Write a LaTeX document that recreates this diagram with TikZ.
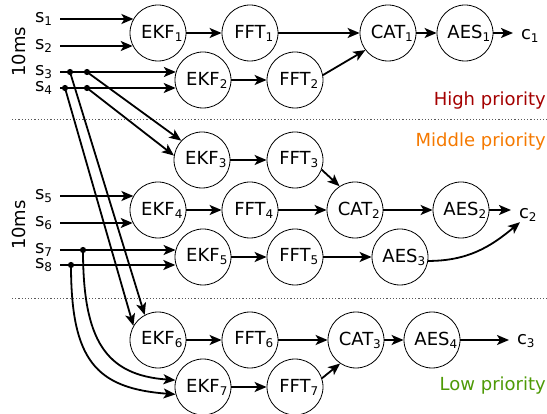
\documentclass[tikz,border=0pt]{standalone}
\usepackage{fontspec}
\setmainfont{DejaVu Sans}
\usetikzlibrary{arrows.meta}
\definecolor{hired}{HTML}{A40000}
\definecolor{midorange}{HTML}{F57900}
\definecolor{logreen}{HTML}{4E9A06}
\newcommand\sbx[1]{\rlap{\raisebox{-3pt}{\fontsize{12}{12}\selectfont #1}}}
\newcommand\sbs[1]{\raisebox{-2.5pt}{\fontsize{12}{12}\selectfont #1}}
\tikzset{
  bigtxt/.style={font=\fontsize{18}{21}\selectfont},
  proc/.style={circle, draw, line width=0.8pt, minimum size=56pt, inner sep=0pt, bigtxt},
  arr/.style={line width=1.8pt, -{Stealth[length=12pt,width=10pt,inset=3pt]}},
  src/.style={anchor=west, inner sep=0pt, outer xsep=8pt, bigtxt},
  outl/.style={anchor=base west, inner sep=0pt, outer xsep=8pt, bigtxt},
  sepline/.style={line width=1pt, black!65, dash pattern=on 1.2pt off 2pt},
  prio/.style={anchor=base east, inner sep=0pt, bigtxt},
  msl/.style={rotate=90, anchor=base, inner sep=0pt, bigtxt}
}
\begin{document}
\begin{tikzpicture}[x=1pt,y=1pt]
\useasboundingbox (0,0) rectangle (547,-414);

% separators
\coordinate (sepAl) at (12,-119.5); \coordinate (sepAr) at (547,-119.5);
\coordinate (sepBl) at (12,-298.5); \coordinate (sepBr) at (547,-298.5);
\draw[sepline] (sepAl) -- (sepAr);
\draw[sepline] (sepBl) -- (sepBr);

% labels
\node[msl] (ms1) at (25,-51.7) {10ms};
\node[msl] (ms2) at (25,-225) {10ms};
\node[prio, text=hired] (hp) at (546,-106) {High priority};
\node[prio, text=midorange] (mp) at (546,-147) {Middle priority};
\node[prio, text=logreen] (lp) at (546,-390.5) {Low priority};

% sources
\node[src] (s1) at (27,-19) {s\sbs{1}};
\node[src] (s2) at (27,-46) {s\sbs{2}};
\node[src] (s3) at (27,-72) {s\sbs{3}};
\node[src] (s4) at (27,-88) {s\sbs{4}};
\node[src] (s5) at (27,-196) {s\sbs{5}};
\node[src] (s6) at (27,-223) {s\sbs{6}};
\node[src] (s7) at (27,-250) {s\sbs{7}};
\node[src] (s8) at (27,-265) {s\sbs{8}};

% processes
\node[proc] (ekf1) at (158,-33) {EKF\sbx{1}};
\node[proc] (fft1) at (250,-33) {FFT\sbx{1}};
\node[proc] (cat1) at (388,-33) {CAT\sbx{1}};
\node[proc] (aes1) at (465,-33) {AES\sbx{1}};
\node[proc] (ekf2) at (203,-80) {EKF\sbx{2}};
\node[proc] (fft2) at (295,-80) {FFT\sbx{2}};

\node[proc] (ekf3) at (202,-160) {EKF\sbx{3}};
\node[proc] (fft3) at (295,-160) {FFT\sbx{3}};
\node[proc] (ekf4) at (158,-210) {EKF\sbx{4}};
\node[proc] (fft4) at (250,-210) {FFT\sbx{4}};
\node[proc] (cat2) at (355,-210) {CAT\sbx{2}};
\node[proc] (aes2) at (461,-210) {AES\sbx{2}};
\node[proc] (ekf5) at (203,-257) {EKF\sbx{5}};
\node[proc] (fft5) at (295,-257) {FFT\sbx{5}};
\node[proc] (aes3) at (400,-257) {AES\sbx{3}};

\node[proc] (ekf6) at (158,-340) {EKF\sbx{6}};
\node[proc] (fft6) at (250,-340) {FFT\sbx{6}};
\node[proc] (cat3) at (356,-340) {CAT\sbx{3}};
\node[proc] (aes4) at (432,-340) {AES\sbx{4}};
\node[proc] (ekf7) at (203,-387) {EKF\sbx{7}};
\node[proc] (fft7) at (295,-387) {FFT\sbx{7}};

% outputs
\node[outl] (c1) at (513,-40) {c\sbx{1}};
\node[outl] (c2) at (511,-219) {c\sbx{2}};
\node[outl] (c3) at (509,-345) {c\sbx{3}};

% junction dots
\coordinate (d3a) at (70,-72);
\coordinate (d3b) at (87,-72);
\coordinate (d4a) at (65,-88);
\coordinate (d4b) at (87,-88);
\coordinate (d7) at (83,-250);
\coordinate (d8) at (71,-265);
\foreach \d in {d3a,d3b,d4a,d4b,d7,d8} \fill (\d) circle (3.1pt);

% source arrows
\draw[arr] (s1.east) -- (s1.east -| ekf1.150);
\draw[arr] (s2.east) -- (s2.east -| ekf1.207.66);
\draw[arr] (s3.east) -- (s3.east -| ekf2.163.4);
\draw[arr] (s4.east) -- (s4.east -| ekf2.196.6);
\draw[arr] (s5.east) -- (s5.east -| ekf4.150);
\draw[arr] (s6.east) -- (s6.east -| ekf4.207.66);
\draw[arr] (s7.east) -- (s7.east -| ekf5.165.52);
\draw[arr] (s8.east) -- (s8.east -| ekf5.193.4);

% branches
\draw[arr] (d3b) -- (ekf3.137);
\draw[arr] (d4b) -- (ekf3.171);
\draw[arr] (d3a) -- (ekf6.118);
\draw[arr] (d4a) -- (ekf6.150);
\draw[arr] (d7) .. controls +(0,-90) and +(-70,5) .. (ekf7.166);
\draw[arr] (d8) .. controls +(0,-95) and +(-80,6) .. (ekf7.195);

% chains
\draw[arr] (ekf1) -- (fft1);
\draw[arr] (fft1) -- (cat1);
\draw[arr] (cat1) -- (aes1);
\draw[arr] (aes1) -- (aes1 -| c1.west);
\draw[arr] (ekf2) -- (fft2);
\draw[arr] (fft2.10) -- (cat1.217);

\draw[arr] (ekf3) -- (fft3);
\draw[arr] (fft3.-20) -- (cat2.123);
\draw[arr] (ekf4) -- (fft4);
\draw[arr] (fft4) -- (cat2);
\draw[arr] (cat2) -- (aes2);
\draw[arr] (aes2) -- (aes2 -| c2.west);
\draw[arr] (ekf5) -- (fft5);
\draw[arr] (fft5) -- (aes3);
\draw[arr] (aes3.-8) to[out=0,in=220] ([xshift=9pt]c2.south west);

\draw[arr] (ekf6) -- (fft6);
\draw[arr] (fft6) -- (cat3);
\draw[arr] (cat3) -- (aes4);
\draw[arr] (aes4) -- (aes4 -| c3.west);
\draw[arr] (ekf7) -- (fft7);
\draw[arr] (fft7.18) -- (cat3.236);
\end{tikzpicture}
\end{document}
